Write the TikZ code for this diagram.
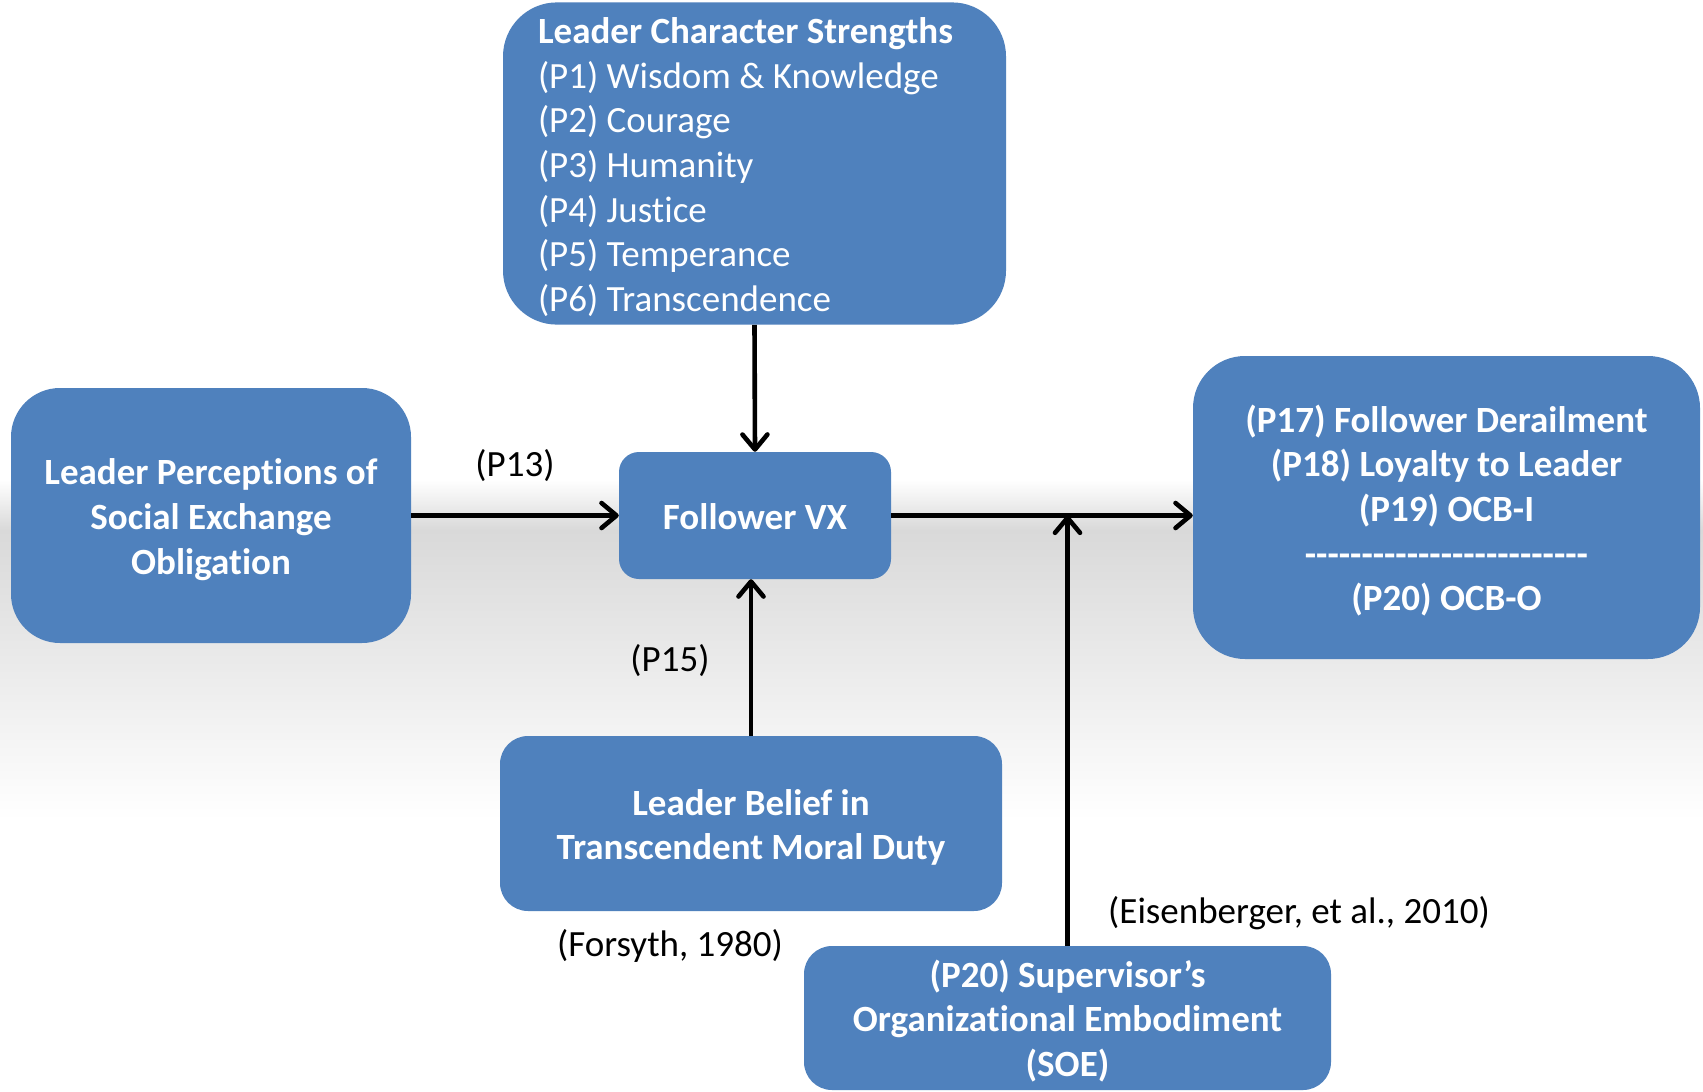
\documentclass[tikz,border=0pt]{standalone}
\usepackage{fontspec}
\setmainfont{Carlito}[Ligatures=CommonOff]
\usetikzlibrary{arrows.meta,calc}
\definecolor{boxblue}{RGB}{79,129,189}
\definecolor{bandgray}{RGB}{217,217,217}
\newcommand\bxc[1]{\raisebox{0pt}[\dimexpr\height+10pt\relax][\depth]{\begin{tabular}{@{}c@{}}#1\end{tabular}}}
\newcommand\bxl[1]{\makebox[433pt][l]{\raisebox{0pt}[\dimexpr\height+10pt\relax][\depth]{\begin{tabular}{@{}l@{}}#1\end{tabular}}}}
\tikzset{
  blbox/.style={draw=none, fill=boxblue, text=white, inner sep=0pt,
    font=\fontsize{37}{44.6}\selectfont\bfseries},
  lbl/.style={inner sep=0pt, text=black, font=\fontsize{37}{44.6}\selectfont},
  arr/.style={line width=4.6pt, -{Straight Barb[length=15pt,width=25pt,round]}},
}
\begin{document}
\begin{tikzpicture}[x=1pt,y=-1pt]
\useasboundingbox (0,0) rectangle (1703,1092);
\fill[white] (0,0) rectangle (1703,1092);
% background band
\shade[top color=white, bottom color=bandgray] (0,480) rectangle (1703,530);
\shade[top color=bandgray, bottom color=white] (0,530) rectangle (1703,820);

% boxes
\node[blbox, rounded corners=54pt, minimum width=503pt, minimum height=319pt,
      font=\fontsize{37}{44.6}\selectfont]
  (lcs) at (754.5,163.5)
  {\bxl{\textbf{Leader Character Strengths}\\(P1) Wisdom \& Knowledge\\(P2) Courage\\(P3) Humanity\\(P4) Justice\\(P5) Temperance\\(P6) Transcendence}};

\node[blbox, rounded corners=49pt, minimum width=400pt, minimum height=255pt]
  (lpo) at (211,515.5) {\bxc{Leader Perceptions of\\Social Exchange\\Obligation}};

\node[blbox, rounded corners=20pt, minimum width=272pt, minimum height=127pt]
  (fvx) at (755,515.5) {\bxc{Follower VX}};

\node[blbox, rounded corners=52pt, minimum width=507pt, minimum height=303pt]
  (out) at (1446.5,507.5) {\bxc{(P17) Follower Derailment\\(P18) Loyalty to Leader\\(P19) OCB-I\\-{}-{}-{}-{}-{}-{}-{}-{}-{}-{}-{}-{}-{}-{}-{}-{}-{}-{}-{}-{}-{}-{}-{}-{}-\\(P20) OCB-O}};

\node[blbox, rounded corners=28pt, minimum width=502pt, minimum height=175pt]
  (ltd) at (751,823.5) {\bxc{Leader Belief in\\Transcendent Moral Duty}};

\node[blbox, rounded corners=28pt, minimum width=527pt, minimum height=144pt]
  (soe) at (1067.5,1018) {\bxc{(P20) Supervisor’s\\Organizational Embodiment\\(SOE)}};

% connectors
\coordinate (outin) at (fvx.east -| out.west);
\coordinate (join) at (soe.north |- fvx.east);
\coordinate (fvxs) at (ltd.north |- fvx.south);
\draw[arr] (lcs.south) -- (fvx.north);
\draw[arr] (lpo.east) -- (fvx.west);
\draw[arr] (fvx.east) -- (outin);
\draw[arr] (ltd.north) -- (fvxs);
\draw[arr] (soe.north) -- (join);

% labels
\node[lbl] (p13) at (515,466) {(P13)};
\node[lbl] (p15) at (670,661) {(P15)};
\node[lbl] (fors) at (670,946) {(Forsyth, 1980)};
\node[lbl] (eis) at (1299,913) {(Eisenberger, et al., 2010)};
\end{tikzpicture}
\end{document}
